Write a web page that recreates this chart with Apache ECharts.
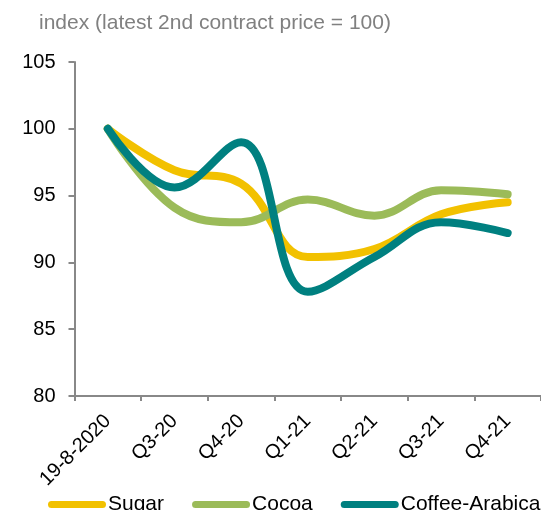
<!DOCTYPE html>
<html>
<head>
<meta charset="utf-8">
<script src="https://cdn.jsdelivr.net/npm/echarts@6/dist/echarts.min.js"></script>
<style>
html,body{margin:0;padding:0;background:#fff;}
#chart{width:541px;height:510px;}
</style>
</head>
<body>
<div id="chart"></div>
<script>
var categories = ['19-8-2020','Q3-20','Q4-20','Q1-21','Q2-21','Q3-21','Q4-21'];
var sugar  = [100, 96.9, 95.9, 90.4, 91.0, 93.6, 94.5];
var cocoa  = [100, 94.1, 93.0, 94.7, 93.5, 95.4, 95.1];
var coffee = [100, 95.6, 99.0, 87.8, 90.4, 93.0, 92.2];
var yTicks = [80, 85, 90, 95, 100, 105];
var titleText = 'index (latest 2nd contract price = 100)';

var font = 'Liberation Sans, Arial, sans-serif';
var chart = echarts.init(document.getElementById('chart'), null, {renderer:'canvas'});
function mk(name, data, color){
  return {
    name: name, type: 'line', data: data, smooth: 0.4,
    showSymbol: false, symbol: 'none',
    lineStyle: {width: 8, color: color, cap: 'round', join: 'round'},
    itemStyle: {color: color},
    emphasis: {disabled: true},
    animation: false
  };
}
chart.setOption({
  animation: false,
  title: {
    text: titleText, left: 34, top: 8,
    textStyle: {fontFamily: font, fontSize: 21, fontWeight: 'normal', color: '#808080'}
  },
  grid: {left: 74.5, right: -9.5, top: 62, bottom: 114, containLabel: false},
  legend: {
    left: 48, top: 494, width: 800, orient: 'horizontal', padding: 0,
    icon: 'path://M3.5,0 L54.5,0 A3.5,3.5 0 0 1 54.5,7 L3.5,7 A3.5,3.5 0 0 1 3.5,0 Z',
    itemWidth: 58, itemHeight: 7, itemGap: 28,
    textStyle: {fontFamily: font, fontSize: 21, color: '#000', padding: [0, 0, 0, -3]},
    data: ['Sugar','Cocoa','Coffee-Arabica']
  },
  xAxis: {
    type: 'category', data: categories, boundaryGap: true,
    axisLine: {lineStyle: {color: '#888', width: 2}},
    axisTick: {show: true, length: 5, lineStyle: {color: '#888', width: 2}},
    axisLabel: {rotate: 45, margin: 22, fontFamily: font, fontSize: 20, color: '#000', interval: 0}
  },
  yAxis: {
    type: 'value', min: yTicks[0], max: yTicks[yTicks.length-1], interval: 5,
    axisLine: {show: true, lineStyle: {color: '#888', width: 2}},
    axisTick: {show: true, length: 6, lineStyle: {color: '#888', width: 2}},
    splitLine: {show: false},
    axisLabel: {margin: 19, fontFamily: font, fontSize: 20, color: '#000'}
  },
  series: [mk('Sugar', sugar, '#F2C100'), mk('Cocoa', cocoa, '#9BBB59'), mk('Coffee-Arabica', coffee, '#008080')]
});
</script>
</body>
</html>
